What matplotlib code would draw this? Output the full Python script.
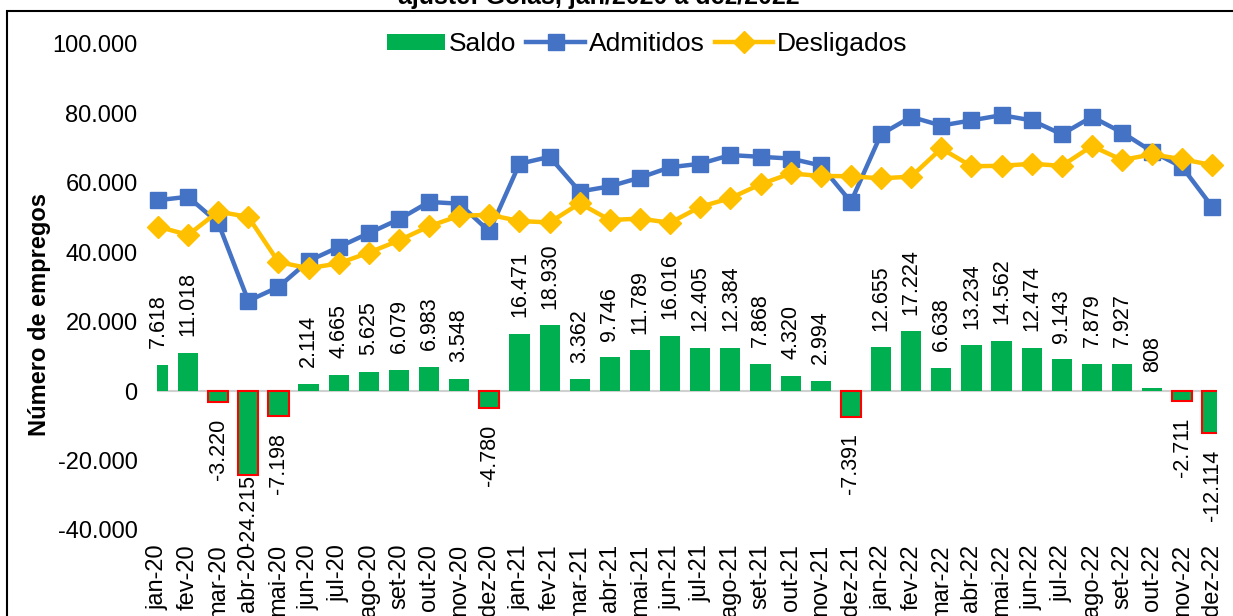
# -*- coding: utf-8 -*-
import numpy as np
import matplotlib
matplotlib.use('Agg')
import matplotlib.pyplot as plt
from matplotlib.patches import Rectangle, Patch
from matplotlib.lines import Line2D

plt.rcParams['font.family'] = ['Liberation Sans', 'DejaVu Sans']

meses = ['jan-20', 'fev-20', 'mar-20', 'abr-20', 'mai-20', 'jun-20', 'jul-20', 'ago-20', 'set-20', 'out-20', 'nov-20', 'dez-20',
         'jan-21', 'fev-21', 'mar-21', 'abr-21', 'mai-21', 'jun-21', 'jul-21', 'ago-21', 'set-21', 'out-21', 'nov-21', 'dez-21',
         'jan-22', 'fev-22', 'mar-22', 'abr-22', 'mai-22', 'jun-22', 'jul-22', 'ago-22', 'set-22', 'out-22', 'nov-22', 'dez-22']

saldo = [7618, 11018, -3220, -24215, -7198, 2114, 4665, 5625, 6079, 6983, 3548, -4780,
         16471, 18930, 3362, 9746, 11789, 16016, 12405, 12384, 7868, 4320, 2994, -7391,
         12655, 17224, 6638, 13234, 14562, 12474, 9143, 7879, 7927, 808, -2711, -12114]

admitidos = [55000, 56000, 48500, 26000, 30000, 37500, 41500, 45500, 49500, 54500, 54000, 46000,
             65500, 67500, 57500, 59000, 61500, 64500, 65500, 68000, 67500, 67000, 65000, 54500,
             74000, 79000, 76500, 78000, 79500, 78000, 74000, 79000, 74500, 69000, 64500, 53000]

desligados = [47400, 45000, 51700, 50200, 37200, 35400, 36800, 39900, 43400, 47500, 50500, 50800,
              49000, 48600, 54100, 49300, 49700, 48500, 53100, 55600, 59600, 62700, 62000, 61900,
              61300, 61800, 69900, 64800, 64900, 65500, 64900, 70600, 66600, 68200, 66800, 65100]

yticks = [-40000, -20000, 0, 20000, 40000, 60000, 80000, 100000]

verde = '#00B050'
azul = '#4472C4'
amarelo = '#FFC000'


def fmt(v):
    return '{:,}'.format(v).replace(',', '.')


W, H = 1233, 616
fig = plt.figure(figsize=(W / 100, H / 100), dpi=100)
ax = fig.add_axes([157 / W, (H - 530) / H, (1217 - 157) / W, (530 - 44) / H])

x = np.arange(len(meses))

# barras do saldo (negativas com contorno vermelho)
for i, v in enumerate(saldo):
    if v < 0:
        ax.bar(x[i], v, width=0.67, color=verde, edgecolor='#FF0000', linewidth=1.5, zorder=2)
    else:
        ax.bar(x[i], v, width=0.67, color=verde, edgecolor='none', zorder=2)

ax.axhline(0, color='#D0D0D0', linewidth=1.5, zorder=1)

ax.plot(x, admitidos, color=azul, linewidth=3.2, marker='s', markersize=12, zorder=4, clip_on=False)
ax.plot(x, desligados, color=amarelo, linewidth=3.2, marker='D', markersize=11.5, zorder=5, clip_on=False)

for i, v in enumerate(saldo):
    if v >= 0:
        ax.annotate(fmt(v), (x[i], v), xytext=(0, 12), textcoords='offset points',
                    rotation=90, ha='center', va='bottom', fontsize=15.5)
    else:
        # rotulo da barra muito longa fica colado na barra
        off = -12 if v > -20000 else 0
        ax.annotate(fmt(v), (x[i], v), xytext=(0, off), textcoords='offset points',
                    rotation=90, ha='center', va='top', fontsize=15.5, annotation_clip=False)

ax.set_xlim(-0.03, 35.15)
ax.set_ylim(-40000, 100000)
ax.set_yticks(yticks)
ax.set_yticklabels([fmt(t) for t in yticks], fontsize=17)
ax.set_xticks(x)
ax.set_xticklabels(meses, rotation=90, fontsize=17)
ax.tick_params(axis='y', length=0, pad=14)
ax.tick_params(axis='x', length=0, pad=10)
for s in ax.spines.values():
    s.set_visible(False)

fig.text(40 / W, 1 - 315 / H, 'Número de empregos', rotation=90, ha='center', va='center',
         fontsize=17, fontweight='bold')

handles = [Patch(facecolor=verde, edgecolor='none'),
           Line2D([0], [0], color=azul, linewidth=3.2, marker='s', markersize=12),
           Line2D([0], [0], color=amarelo, linewidth=3.2, marker='D', markersize=11.5)]
ax.legend(handles, ['Saldo', 'Admitidos', 'Desligados'], loc='center', bbox_to_anchor=((647 - 157) / 1060, 1.0),
          ncol=3, frameon=False, fontsize=19, handlelength=2.2, handleheight=0.55, handletextpad=0.15,
          columnspacing=0.4, borderpad=0)

# moldura e titulo cortado no topo
fig.patches.append(Rectangle((7 / W, -0.05), 1.1, 1.05 - 11 / H, transform=fig.transFigure,
                             fill=False, edgecolor='black', linewidth=1.5))
fig.text(599 / W, 1 - 4 / H, 'ajuste: Goiás, jan/2020 a dez/2022', ha='center', va='baseline',
         fontsize=18, fontweight='bold')

fig.savefig('out.png', dpi=100)
